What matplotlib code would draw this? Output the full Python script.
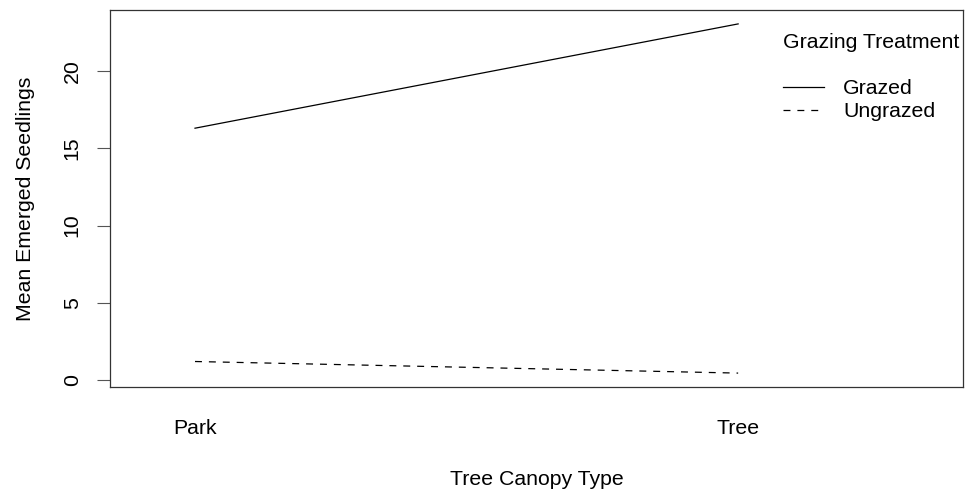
import matplotlib
matplotlib.use('Agg')
import matplotlib.pyplot as plt

# Mean emerged seedlings by canopy type and grazing treatment
canopy = ["Park", "Tree"]
grazed = [16.3, 23.05]
ungrazed = [1.2, 0.45]

plt.rcParams['font.family'] = ['Liberation Sans', 'DejaVu Sans']
plt.rcParams['lines.scale_dashes'] = False
FS = 15.3

W, H = 966, 493
fig = plt.figure(figsize=(W / 100, H / 100), dpi=100)
ax = fig.add_axes([110 / W, 1 - 387 / H, (963 - 110) / W, (387 - 10) / H])

x = [1, 2]
ax.plot(x, grazed, color='black', lw=0.9, label='Grazed')
ax.plot(x, ungrazed, color='black', lw=0.9, dashes=(5, 5), label='Ungrazed')

ax.set_xlim(0.8435, 2.414)
ax.set_ylim(-0.45, 23.95)

ax.set_yticks([0, 5, 10, 15, 20])
ax.set_yticklabels(["0", "5", "10", "15", "20"], rotation=90, va='center')
ax.tick_params(axis='y', length=9.4, width=0.8, labelsize=FS, pad=11, color='#555555')
ax.set_xticks(x)
ax.set_xticklabels(canopy)
ax.tick_params(axis='x', length=0, labelsize=FS, pad=23)

for s in ax.spines.values():
    s.set_linewidth(0.9)
    s.set_color('#333333')

ax.set_ylabel("Mean Emerged Seedlings", fontsize=FS, labelpad=20)
ax.set_xlabel("Tree Canopy Type", fontsize=FS, labelpad=23)

# legend title placed as its own text, entries below it
ax.text(0.789, 0.915, "Grazing Treatment", transform=ax.transAxes,
        fontsize=FS, ha='left', va='center')
ax.legend(loc='upper left', bbox_to_anchor=(0.789, 0.817), frameon=False,
          fontsize=FS, handlelength=1.92, handletextpad=0.9,
          labelspacing=0.2, borderaxespad=0, borderpad=0)

fig.savefig('out.png', dpi=100)
